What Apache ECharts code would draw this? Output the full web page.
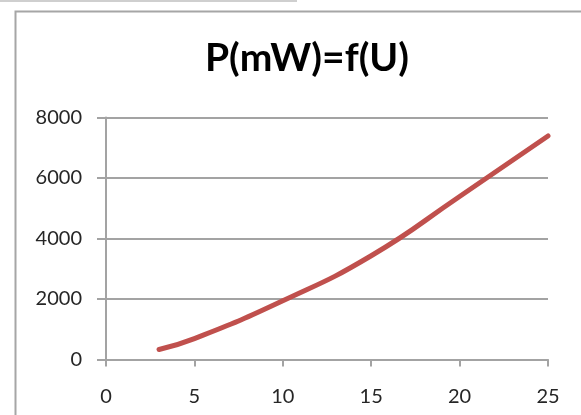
<!DOCTYPE html>
<html>
<head>
<meta charset="utf-8">
<script src="https://cdn.jsdelivr.net/npm/echarts@6/dist/echarts.min.js"></script>
<style>
html,body{margin:0;padding:0;background:#fff;}
#c{width:581px;height:415px;}
</style>
</head>
<body>
<div id="c"></div>
<script>
var titleText = 'P(mW)=f(U)';
var voltage = [3, 5, 10, 15, 20, 25];
var power = [330, 690, 1940, 3430, 5390, 7390];
var xTicks = [0, 5, 10, 15, 20, 25];
var yTicks = [0, 2000, 4000, 6000, 8000];

var chart = echarts.init(document.getElementById('c'), null, {renderer: 'canvas'});
var pts = voltage.map(function (u, i) { return [u, power[i]]; });
var axisGray = '#a3a3a3';
var font = 'Lato, "Open Sans", sans-serif';

chart.setOption({
  animation: false,
  backgroundColor: '#fff',
  title: {
    text: titleText,
    left: 302,
    top: 34,
    textAlign: 'center',
    textStyle: {fontFamily: font, fontWeight: 'bold', fontSize: 39, color: '#000'}
  },
  graphic: [
    {type: 'line', shape: {x1: 0, y1: 1, x2: 297, y2: 1}, style: {stroke: '#cfcfcf', lineWidth: 2}},
    {type: 'rect', shape: {x: 15.5, y: 11.5, width: 700, height: 500}, style: {fill: 'none', stroke: '#a6a6a6', lineWidth: 2}}
  ],
  grid: {left: 106, right: 33, top: 117.5, bottom: 55.5, containLabel: false},
  xAxis: {
    type: 'value',
    min: xTicks[0],
    max: xTicks[xTicks.length - 1],
    interval: 5,
    axisLine: {show: true, onZero: false, lineStyle: {color: axisGray, width: 2}},
    axisTick: {show: true, length: 7, lineStyle: {color: axisGray, width: 2}},
    splitLine: {show: false},
    axisLabel: {margin: 27, fontFamily: font, fontSize: 20, color: '#262626',
      formatter: function (v) { return String(v); }}
  },
  yAxis: {
    type: 'value',
    min: yTicks[0],
    max: yTicks[yTicks.length - 1],
    interval: 2000,
    axisLine: {show: true, lineStyle: {color: axisGray, width: 2}},
    axisTick: {show: true, length: 9, lineStyle: {color: axisGray, width: 2}},
    splitLine: {show: true, lineStyle: {color: axisGray, width: 2}},
    axisLabel: {margin: 24, fontFamily: font, fontSize: 20, color: '#262626',
      formatter: function (v) { return String(v); }}
  },
  series: [{
    type: 'line',
    data: pts,
    smooth: 0.5,
    showSymbol: false,
    lineStyle: {color: '#c0504d', width: 5, cap: 'round'},
    itemStyle: {color: '#c0504d'}
  }]
});
</script>
</body>
</html>
